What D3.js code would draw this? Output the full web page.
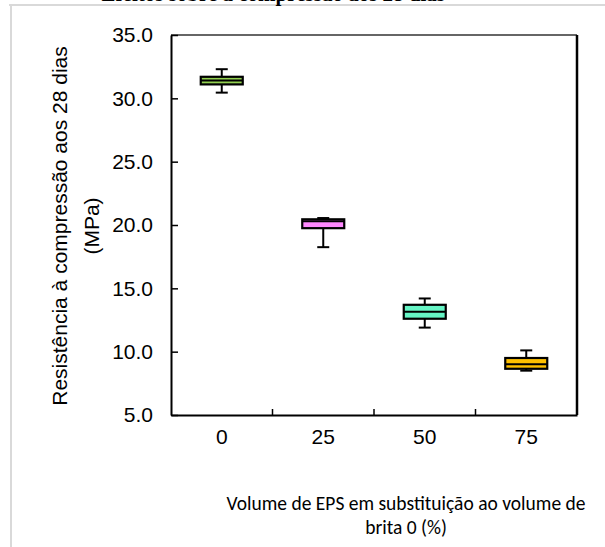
<!DOCTYPE html>
<html>
<head>
<meta charset="utf-8">
<script src="https://cdn.jsdelivr.net/npm/d3@7"></script>
<style>
body { margin: 0; background: #fff; }
svg { display: block; }
</style>
</head>
<body>
<div id="chart"></div>
<script>
// values
var categories = ["0", "25", "50", "75"];
var minVals = [30.45, 18.25, 11.9, 8.5];
var q1Vals = [31.1, 19.75, 12.6, 8.65];
var medVals = [31.4, 20.3, 13.15, 9.0];
var q3Vals = [31.7, 20.45, 13.7, 9.5];
var maxVals = [32.3, 20.55, 14.2, 10.1];
var boxColors = ["#92d050", "#ff88ff", "#66f5c5", "#ffc000"];
var yTicks = [5, 10, 15, 20, 25, 30, 35];

var width = 605, height = 547;
var plotLeft = 171, plotRight = 577, plotTop = 35, plotBottom = 415;

var svg = d3.select("#chart")
    .append("svg")
    .attr("width", width)
    .attr("height", height);

// gray frame of the cropped figure
svg.append("line")
    .attr("x1", 9).attr("x2", width)
    .attr("y1", 5).attr("y2", 5)
    .attr("stroke", "#d9d9d9").attr("stroke-width", 2);
svg.append("line")
    .attr("x1", 11).attr("x2", 11)
    .attr("y1", 5).attr("y2", height)
    .attr("stroke", "#d9d9d9").attr("stroke-width", 2);

// title, cut off at the top
svg.append("text")
    .attr("x", 445)
    .attr("y", 0.5)
    .attr("text-anchor", "end")
    .style("font-family", "Liberation Serif, serif")
    .style("font-weight", "bold")
    .style("font-size", "21px")
    .text("Efeitos sobre a compressão aos 28 dias");

var x = d3.scaleBand()
    .domain(categories)
    .range([plotLeft, plotRight]);

var y = d3.scaleLinear()
    .domain([5, 35])
    .range([plotBottom, plotTop]);

// plot border
svg.append("line")
    .attr("x1", plotLeft).attr("x2", plotRight)
    .attr("y1", plotTop).attr("y2", plotTop)
    .attr("stroke", "#333").attr("stroke-width", 1.5);
svg.append("line")
    .attr("x1", plotRight).attr("x2", plotRight)
    .attr("y1", plotTop).attr("y2", plotBottom)
    .attr("stroke", "#000").attr("stroke-width", 2.5);

// y axis, ticks inward
var yAxis = svg.append("g")
    .attr("transform", "translate(" + plotLeft + ",0)")
    .call(d3.axisRight(y).tickValues(yTicks).tickSize(7).tickSizeOuter(0).tickFormat(d3.format(".1f")));
yAxis.select(".domain").attr("stroke-width", 2);
yAxis.selectAll(".tick line").attr("stroke-width", 1.5);
yAxis.selectAll(".tick text")
    .attr("x", -18)
    .attr("text-anchor", "end")
    .style("font-family", "Liberation Sans, Arial, sans-serif")
    .style("font-size", "21px")
    .attr("fill", "#000");

// x axis, ticks between categories pointing up
var xAxis = svg.append("g")
    .attr("transform", "translate(0," + plotBottom + ")")
    .call(d3.axisBottom(x).tickSize(0));
xAxis.select(".domain").attr("stroke-width", 2);
xAxis.selectAll(".tick text")
    .attr("y", 29)
    .attr("dy", 0)
    .style("font-family", "Liberation Sans, Arial, sans-serif")
    .style("font-size", "21px")
    .attr("fill", "#000");
xAxis.selectAll(".sep")
    .data(categories.slice(1))
    .enter()
    .append("line")
    .attr("class", "sep")
    .attr("x1", function(d) { return x(d); })
    .attr("x2", function(d) { return x(d); })
    .attr("y1", 0)
    .attr("y2", -6)
    .attr("stroke", "#000")
    .attr("stroke-width", 1.5);

// boxes
var boxW = 42, capW = 12;
var boxes = svg.selectAll(".box")
    .data(categories)
    .enter()
    .append("g")
    .attr("class", "box");

function cx(d) { return x(d) + x.bandwidth() / 2; }

// whiskers
boxes.append("line")
    .attr("x1", cx).attr("x2", cx)
    .attr("y1", function(d, i) { return y(maxVals[i]); })
    .attr("y2", function(d, i) { return y(minVals[i]); })
    .attr("stroke", "#000").attr("stroke-width", 2);
boxes.append("line")
    .attr("x1", function(d) { return cx(d) - capW / 2; })
    .attr("x2", function(d) { return cx(d) + capW / 2; })
    .attr("y1", function(d, i) { return y(maxVals[i]); })
    .attr("y2", function(d, i) { return y(maxVals[i]); })
    .attr("stroke", "#000").attr("stroke-width", 2);
boxes.append("line")
    .attr("x1", function(d) { return cx(d) - capW / 2; })
    .attr("x2", function(d) { return cx(d) + capW / 2; })
    .attr("y1", function(d, i) { return y(minVals[i]); })
    .attr("y2", function(d, i) { return y(minVals[i]); })
    .attr("stroke", "#000").attr("stroke-width", 2);

boxes.append("rect")
    .attr("x", function(d) { return cx(d) - boxW / 2; })
    .attr("width", boxW)
    .attr("y", function(d, i) { return y(q3Vals[i]); })
    .attr("height", function(d, i) { return y(q1Vals[i]) - y(q3Vals[i]); })
    .attr("fill", function(d, i) { return boxColors[i]; })
    .attr("stroke", "#000")
    .attr("stroke-width", 2.2);

boxes.append("line")
    .attr("x1", function(d) { return cx(d) - boxW / 2; })
    .attr("x2", function(d) { return cx(d) + boxW / 2; })
    .attr("y1", function(d, i) { return y(medVals[i]); })
    .attr("y2", function(d, i) { return y(medVals[i]); })
    .attr("stroke", "#000").attr("stroke-width", 2);

// y axis title
var yTitle = svg.append("text")
    .attr("transform", "translate(67,226) rotate(-90)")
    .attr("text-anchor", "middle")
    .style("font-family", "Liberation Sans, Arial, sans-serif")
    .style("font-size", "21px");
yTitle.append("tspan").attr("x", 0).attr("y", 0).text("Resistência à compressão aos 28 dias");
yTitle.append("tspan").attr("x", 0).attr("y", 32).text("(MPa)");

// x axis title
var xTitle = svg.append("text")
    .attr("text-anchor", "middle")
    .style("font-family", "Carlito, Lato, sans-serif")
    .style("font-size", "19.5px");
xTitle.append("tspan").attr("x", 406).attr("y", 510).text("Volume de EPS em substituição ao volume de");
xTitle.append("tspan").attr("x", 406).attr("y", 534).text("brita 0 (%)");
</script>
</body>
</html>
